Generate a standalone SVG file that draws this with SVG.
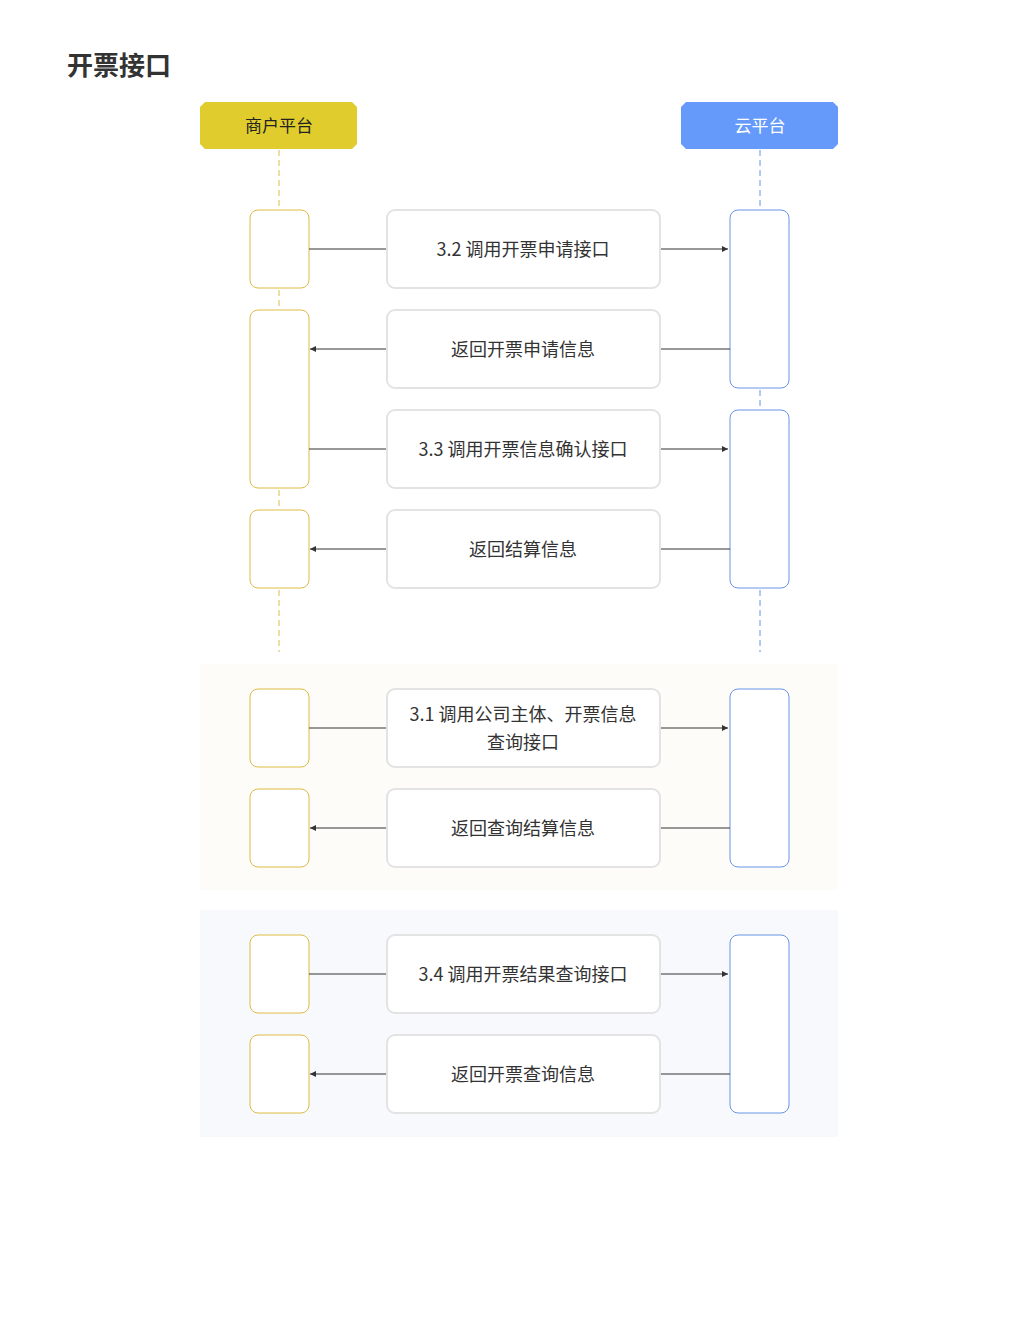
<svg xmlns="http://www.w3.org/2000/svg" width="1021" height="1337" viewBox="0 0 1021 1337">
<style>
text{font-family:"Noto Sans CJK SC","Liberation Sans",sans-serif;}
.msg{fill:#fff;stroke:#e3e3e3;stroke-width:2}
.mt{font-size:18px;fill:#333;text-anchor:middle}
.la{fill:#fff;stroke:#dcbc45;stroke-width:1}
.ra{fill:#fff;stroke:#6a94e6;stroke-width:1}
.ln{stroke:#333;stroke-width:1;fill:none}
</style>
<defs>
<marker id="ah" viewBox="0 0 10 10" refX="10" refY="5" markerWidth="6" markerHeight="10" markerUnits="userSpaceOnUse" orient="auto"><path d="M0,0L10,5L0,10z" fill="#333"/></marker>
</defs>
<rect width="1021" height="1337" fill="#fff"/>
<text x="67" y="75" font-size="26" font-weight="bold" fill="#333">开票接口</text>
<rect x="200" y="664" width="638" height="226" fill="#fdfcf8"/>
<rect x="200" y="910" width="638" height="227" fill="#f8f9fd"/>
<g id="lifelines">
<line x1="279" y1="150" x2="279" y2="652" stroke="#dcbc45" stroke-dasharray="6,4"/>
<line x1="760" y1="150" x2="760" y2="652" stroke="#6a94e6" stroke-dasharray="6,4"/>
</g>
<g id="merchant"><path d="M205,102H352L357,107V144L352,149H205L200,144V107Z" fill="#e0cd2d"/><text x="279" y="132" font-size="17" text-anchor="middle" fill="#222">商户平台</text></g>
<g id="cloud"><path d="M686,102H833L838,107V144L833,149H686L681,144V107Z" fill="#659afa"/><text x="760" y="132" font-size="17" text-anchor="middle" fill="#fff">云平台</text></g>
<g id="activations">
<rect class="la" x="250" y="210" width="59" height="78" rx="8"/>
<rect class="la" x="250" y="310" width="59" height="178" rx="8"/>
<rect class="la" x="250" y="510" width="59" height="78" rx="8"/>
<rect class="ra" x="730" y="210" width="59" height="178" rx="8"/>
<rect class="ra" x="730" y="410" width="59" height="178" rx="8"/>
<rect class="la" x="250" y="689" width="59" height="78" rx="8"/>
<rect class="la" x="250" y="789" width="59" height="78" rx="8"/>
<rect class="ra" x="730" y="689" width="59" height="178" rx="8"/>
<rect class="la" x="250" y="935" width="59" height="78" rx="8"/>
<rect class="la" x="250" y="1035" width="59" height="78" rx="8"/>
<rect class="ra" x="730" y="935" width="59" height="178" rx="8"/>
</g>
<g id="connectors">
<line class="ln" x1="309" y1="249" x2="387" y2="249"/><line class="ln" x1="660" y1="249" x2="728" y2="249" marker-end="url(#ah)"/>
<line class="ln" x1="730" y1="349" x2="660" y2="349"/><line class="ln" x1="387" y1="349" x2="310" y2="349" marker-end="url(#ah)"/>
<line class="ln" x1="309" y1="449" x2="387" y2="449"/><line class="ln" x1="660" y1="449" x2="728" y2="449" marker-end="url(#ah)"/>
<line class="ln" x1="730" y1="549" x2="660" y2="549"/><line class="ln" x1="387" y1="549" x2="310" y2="549" marker-end="url(#ah)"/>
<line class="ln" x1="309" y1="728" x2="387" y2="728"/><line class="ln" x1="660" y1="728" x2="728" y2="728" marker-end="url(#ah)"/>
<line class="ln" x1="730" y1="828" x2="660" y2="828"/><line class="ln" x1="387" y1="828" x2="310" y2="828" marker-end="url(#ah)"/>
<line class="ln" x1="309" y1="974" x2="387" y2="974"/><line class="ln" x1="660" y1="974" x2="728" y2="974" marker-end="url(#ah)"/>
<line class="ln" x1="730" y1="1074" x2="660" y2="1074"/><line class="ln" x1="387" y1="1074" x2="310" y2="1074" marker-end="url(#ah)"/>
</g>
<g id="m1"><rect class="msg" x="387" y="210" width="273" height="78" rx="8"/><text class="mt" x="523" y="256">3.2 调用开票申请接口</text></g>
<g id="m2"><rect class="msg" x="387" y="310" width="273" height="78" rx="8"/><text class="mt" x="523" y="356">返回开票申请信息</text></g>
<g id="m3"><rect class="msg" x="387" y="410" width="273" height="78" rx="8"/><text class="mt" x="523" y="456">3.3 调用开票信息确认接口</text></g>
<g id="m4"><rect class="msg" x="387" y="510" width="273" height="78" rx="8"/><text class="mt" x="523" y="556">返回结算信息</text></g>
<g id="m5"><rect class="msg" x="387" y="689" width="273" height="78" rx="8"/><text class="mt" x="523" y="721">3.1 调用公司主体、开票信息</text><text class="mt" x="523" y="749">查询接口</text></g>
<g id="m6"><rect class="msg" x="387" y="789" width="273" height="78" rx="8"/><text class="mt" x="523" y="835">返回查询结算信息</text></g>
<g id="m7"><rect class="msg" x="387" y="935" width="273" height="78" rx="8"/><text class="mt" x="523" y="981">3.4 调用开票结果查询接口</text></g>
<g id="m8"><rect class="msg" x="387" y="1035" width="273" height="78" rx="8"/><text class="mt" x="523" y="1081">返回开票查询信息</text></g>
</svg>
